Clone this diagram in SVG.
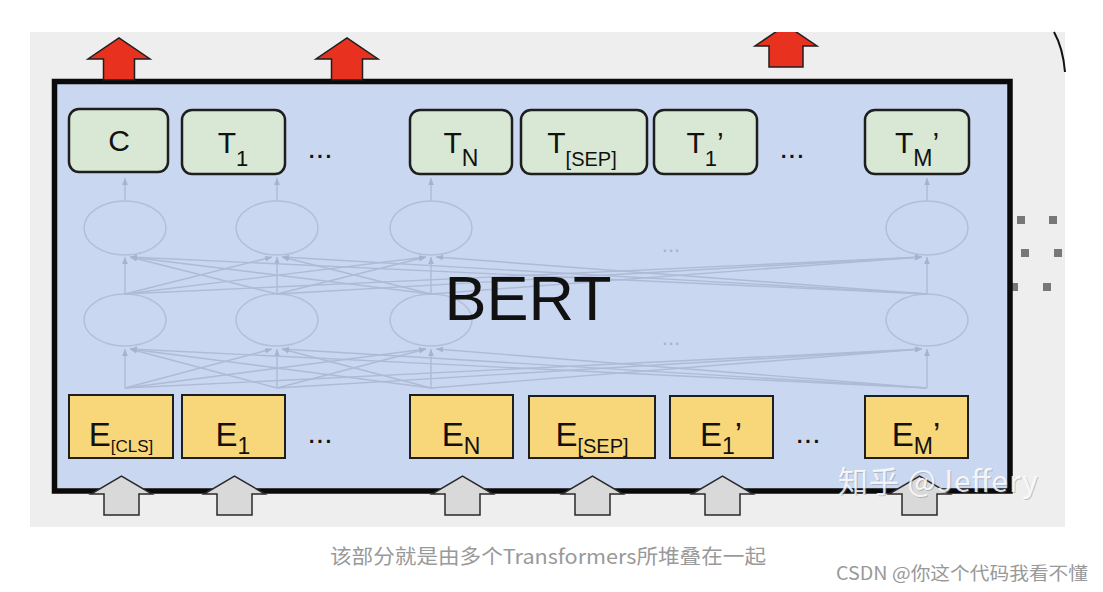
<svg xmlns="http://www.w3.org/2000/svg" width="1103" height="592" viewBox="0 0 1103 592">
<style>
.lbl{font-family:"Liberation Sans",Arial,sans-serif;fill:#111;text-anchor:middle}
.tn{fill:#d9e8d4;stroke:#1e1e1e;stroke-width:2.5}
.en{fill:#f8d77a;stroke:#1e1e1e;stroke-width:2}
.ell{fill:none;stroke:#b3bfd9;stroke-width:1.5}
.ln{stroke:#afbbd6;stroke-width:1.4;fill:none;marker-end:url(#ah)}
.red{fill:#e8321f;stroke:#1e1e1e;stroke-width:1.5}
.gray{fill:#d9d9d9;stroke:#2a2a2a;stroke-width:1.5}
.dot{fill:#777}
.dots{font-family:"Liberation Sans",Arial,sans-serif;fill:#111;text-anchor:middle;font-size:30px}
.cap{font-family:"Noto Sans CJK SC","Noto Sans",sans-serif;fill:#999}
.wm{font-family:"Noto Sans CJK SC","Noto Sans",sans-serif;font-size:30px}
</style>
<defs>
<marker id="ah" viewBox="0 0 10 10" refX="10" refY="5" markerWidth="5" markerHeight="5" orient="auto"><path d="M0,1 L10,5 L0,9 Z" fill="#a6b3d0"/></marker>
<clipPath id="clipTop"><rect x="0" y="32" width="1103" height="560"/></clipPath>
</defs>
<rect x="0" y="0" width="1103" height="592" fill="#fff"/>
<rect x="30" y="32" width="1035" height="495" fill="#eeeeee"/>
<path d="M1054,32 Q1063,48 1065,72" fill="none" stroke="#111" stroke-width="2"/>
<g id="side-dots">
<rect class="dot" x="1017" y="216" width="8" height="8"/>
<rect class="dot" x="1049" y="216" width="8" height="8"/>
<rect class="dot" x="1021" y="249" width="8" height="8"/>
<rect class="dot" x="1054" y="249" width="8" height="8"/>
<rect class="dot" x="1010" y="283" width="8" height="8"/>
<rect class="dot" x="1043" y="283" width="8" height="8"/>
</g>
<g id="bert-box">
<rect x="54.5" y="81.5" width="955.5" height="409.5" fill="#c9d7f0" stroke="#0a0a0a" stroke-width="5.5"/>
</g>
<g id="layers">
<ellipse class="ell" cx="125" cy="228" rx="41" ry="27"/>
<ellipse class="ell" cx="277" cy="228" rx="41" ry="27"/>
<ellipse class="ell" cx="431" cy="228" rx="41" ry="27"/>
<ellipse class="ell" cx="927" cy="228" rx="41" ry="27"/>
<ellipse class="ell" cx="125" cy="320" rx="41" ry="26"/>
<ellipse class="ell" cx="277" cy="320" rx="41" ry="26"/>
<ellipse class="ell" cx="431" cy="320" rx="41" ry="26"/>
<ellipse class="ell" cx="927" cy="320" rx="41" ry="26"/>
<text x="671" y="252" font-family="Liberation Sans,Arial,sans-serif" font-size="22" fill="#a6b3cf" text-anchor="middle">...</text>
<text x="671" y="345" font-family="Liberation Sans,Arial,sans-serif" font-size="22" fill="#a6b3cf" text-anchor="middle">...</text>
</g>
<g id="connectors">
<line class="ln" x1="125" y1="201" x2="125" y2="178"/>
<line class="ln" x1="277" y1="201" x2="277" y2="178"/>
<line class="ln" x1="431" y1="201" x2="431" y2="178"/>
<line class="ln" x1="927" y1="201" x2="927" y2="178"/>
<line class="ln" x1="125" y1="294" x2="125" y2="257"/>
<line class="ln" x1="125" y1="294" x2="272" y2="257"/>
<line class="ln" x1="125" y1="294" x2="426" y2="257"/>
<line class="ln" x1="125" y1="294" x2="922" y2="257"/>
<line class="ln" x1="277" y1="294" x2="130" y2="257"/>
<line class="ln" x1="277" y1="294" x2="277" y2="257"/>
<line class="ln" x1="277" y1="294" x2="426" y2="257"/>
<line class="ln" x1="277" y1="294" x2="922" y2="257"/>
<line class="ln" x1="431" y1="294" x2="130" y2="257"/>
<line class="ln" x1="431" y1="294" x2="282" y2="257"/>
<line class="ln" x1="431" y1="294" x2="431" y2="257"/>
<line class="ln" x1="431" y1="294" x2="922" y2="257"/>
<line class="ln" x1="927" y1="294" x2="130" y2="257"/>
<line class="ln" x1="927" y1="294" x2="282" y2="257"/>
<line class="ln" x1="927" y1="294" x2="436" y2="257"/>
<line class="ln" x1="927" y1="294" x2="927" y2="257"/>
<line class="ln" x1="125" y1="388" x2="125" y2="349"/>
<line class="ln" x1="125" y1="388" x2="272" y2="349"/>
<line class="ln" x1="125" y1="388" x2="426" y2="349"/>
<line class="ln" x1="125" y1="388" x2="922" y2="349"/>
<line class="ln" x1="277" y1="388" x2="130" y2="349"/>
<line class="ln" x1="277" y1="388" x2="277" y2="349"/>
<line class="ln" x1="277" y1="388" x2="426" y2="349"/>
<line class="ln" x1="277" y1="388" x2="922" y2="349"/>
<line class="ln" x1="431" y1="388" x2="130" y2="349"/>
<line class="ln" x1="431" y1="388" x2="282" y2="349"/>
<line class="ln" x1="431" y1="388" x2="431" y2="349"/>
<line class="ln" x1="431" y1="388" x2="922" y2="349"/>
<line class="ln" x1="927" y1="388" x2="130" y2="349"/>
<line class="ln" x1="927" y1="388" x2="282" y2="349"/>
<line class="ln" x1="927" y1="388" x2="436" y2="349"/>
<line class="ln" x1="927" y1="388" x2="927" y2="349"/>
</g>
<text x="528" y="320" font-family="Liberation Sans,Arial,sans-serif" font-size="63" fill="#111" text-anchor="middle">BERT</text>
<g id="node-C"><rect class="tn" x="69" y="109" width="99" height="63" rx="10"/><text class="lbl" x="119" y="151" font-size="30">C</text></g>
<g id="node-T1"><rect class="tn" x="182" y="110" width="103" height="64" rx="10"/><text class="lbl" x="233" y="153" font-size="30">T<tspan font-size="22" dy="13">1</tspan></text></g>
<text class="dots" x="320" y="158">...</text>
<g id="node-TN"><rect class="tn" x="410" y="110" width="102" height="64" rx="10"/><text class="lbl" x="461" y="153" font-size="30">T<tspan font-size="23" dy="13">N</tspan></text></g>
<g id="node-TSEP"><rect class="tn" x="521" y="110" width="126" height="64" rx="10"/><text class="lbl" x="582" y="153" font-size="30">T<tspan font-size="20" dy="13">[SEP]</tspan></text></g>
<g id="node-T1p"><rect class="tn" x="654" y="110" width="103" height="64" rx="10"/><text class="lbl" x="705" y="153" font-size="30">T<tspan font-size="22" dy="13">1</tspan><tspan dy="-13">’</tspan></text></g>
<text class="dots" x="792" y="158">...</text>
<g id="node-TMp"><rect class="tn" x="865" y="110" width="104" height="64" rx="10"/><text class="lbl" x="917" y="153" font-size="30">T<tspan font-size="23" dy="13">M</tspan><tspan dy="-13">’</tspan></text></g>
<g id="node-ECLS"><rect class="en" x="69" y="395" width="104" height="63"/><text class="lbl" x="121" y="446" font-size="33">E<tspan font-size="17" dy="6">[CLS]</tspan></text></g>
<g id="node-E1"><rect class="en" x="182" y="395" width="103" height="63"/><text class="lbl" x="233" y="446" font-size="33">E<tspan font-size="23" dy="8">1</tspan></text></g>
<text class="dots" x="320" y="443">...</text>
<g id="node-EN"><rect class="en" x="410" y="395" width="103" height="63"/><text class="lbl" x="461" y="446" font-size="33">E<tspan font-size="23" dy="8">N</tspan></text></g>
<g id="node-ESEP"><rect class="en" x="529" y="396" width="126" height="62"/><text class="lbl" x="592" y="446" font-size="33">E<tspan font-size="20" dy="7">[SEP]</tspan></text></g>
<g id="node-E1p"><rect class="en" x="670" y="396" width="103" height="62"/><text class="lbl" x="721" y="446" font-size="33">E<tspan font-size="23" dy="8">1</tspan><tspan dy="-8">’</tspan></text></g>
<text class="dots" x="808" y="443">...</text>
<g id="node-EMp"><rect class="en" x="865" y="396" width="103" height="62"/><text class="lbl" x="916" y="446" font-size="33">E<tspan font-size="23" dy="8">M</tspan><tspan dy="-8">’</tspan></text></g>
<g id="output-arrows" clip-path="url(#clipTop)">
<path class="red" d="M103.5,80 L103.5,59 L88,59 L119,38 L150,59 L134.5,59 L134.5,80 Z"/>
<path class="red" d="M331.5,80 L331.5,59 L316,59 L347,38 L378,59 L362.5,59 L362.5,80 Z"/>
<path class="red" d="M769,67 L769,46 L755,46 L786,25 L817,46 L803,46 L803,67 Z"/>
</g>
<g id="input-arrows">
<path class="gray" d="M104,515 L104,494 L91,494 L121.5,476 L152,494 L139,494 L139,515 Z"/>
<path class="gray" d="M217,515 L217,494 L204,494 L234.5,476 L265,494 L252,494 L252,515 Z"/>
<path class="gray" d="M445,515 L445,494 L432,494 L462.5,476 L493,494 L480,494 L480,515 Z"/>
<path class="gray" d="M575,515 L575,494 L562,494 L592.5,476 L623,494 L610,494 L610,515 Z"/>
<path class="gray" d="M705,515 L705,494 L692,494 L722.5,476 L753,494 L740,494 L740,515 Z"/>
<path class="gray" d="M902,515 L902,494 L889,494 L919.5,476 L950,494 L937,494 L937,515 Z"/>
</g>
<text class="wm" x="839" y="493" fill="#6f6f6f" fill-opacity="0.35" textLength="200" lengthAdjust="spacing">知乎 @Jeffery</text>
<text class="wm" x="838" y="492" fill="#ffffff" fill-opacity="0.85" textLength="200" lengthAdjust="spacing">知乎 @Jeffery</text>
<text class="cap" x="330" y="564" font-size="20" textLength="436" lengthAdjust="spacingAndGlyphs">该部分就是由多个Transformers所堆叠在一起</text>
<text class="cap" x="836" y="580" font-size="18" textLength="252" lengthAdjust="spacingAndGlyphs">CSDN @你这个代码我看不懂</text>
</svg>
